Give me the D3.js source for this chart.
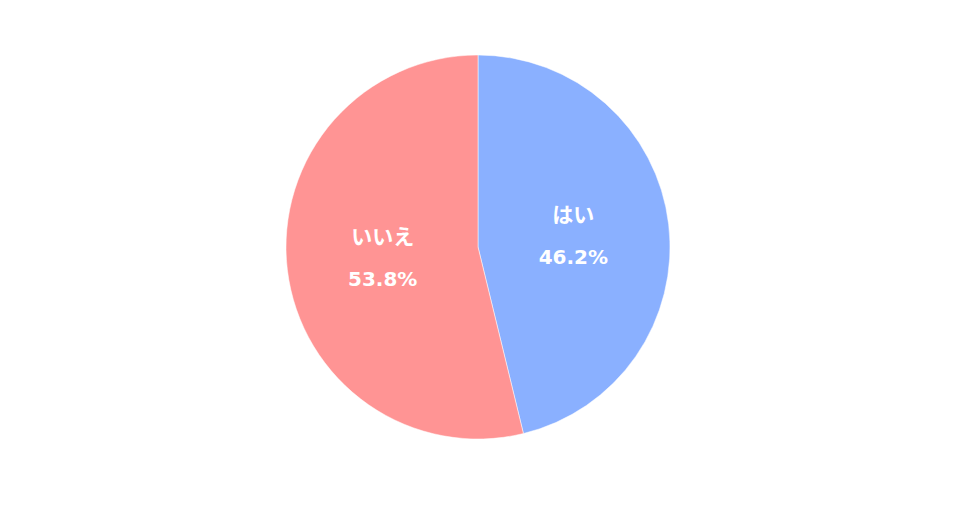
<!DOCTYPE html>
<html>
<head>
<meta charset="utf-8">
<script src="https://cdn.jsdelivr.net/npm/d3@7"></script>
<style>
  body { margin: 0; background: #fff; }
  svg text { font-weight: bold; fill: #fff; }
  .name { font-family: "Noto Sans CJK JP", sans-serif; font-size: 21px; }
  .pct { font-family: "DejaVu Sans", sans-serif; font-size: 20px; }
</style>
</head>
<body>
<svg width="968" height="508"></svg>
<script>
var labels = ["はい", "いいえ"];
var values = [46.2, 53.8];
var colors = ["#8AB0FF", "#FF9494"];

var svg = d3.select("svg"),
    cx = 478, cy = 247, radius = 192;

var pie = d3.pie().sort(null).value(function(d) { return d; });
var arc = d3.arc().innerRadius(0).outerRadius(radius);
var labelArc = d3.arc().innerRadius(radius * 0.5).outerRadius(radius * 0.5);

var arcs = pie(values);

var g = svg.append("g").attr("transform", "translate(" + cx + "," + cy + ")");

g.selectAll("path")
  .data(arcs)
  .enter().append("path")
    .attr("d", arc)
    .attr("fill", function(d, i) { return colors[i]; })
    .attr("stroke", "#fff")
    .attr("stroke-width", 0.5);

var lab = g.selectAll("g.label")
  .data(arcs)
  .enter().append("g")
    .attr("class", "label")
    .attr("transform", function(d) { return "translate(" + labelArc.centroid(d) + ")"; });

lab.append("text")
    .attr("class", "name")
    .attr("text-anchor", "middle")
    .attr("y", -14)
    .text(function(d, i) { return labels[i]; });

lab.append("text")
    .attr("class", "pct")
    .attr("text-anchor", "middle")
    .attr("y", 28)
    .text(function(d, i) { return d3.format(".1f")(values[i]) + "%"; });
</script>
</body>
</html>
